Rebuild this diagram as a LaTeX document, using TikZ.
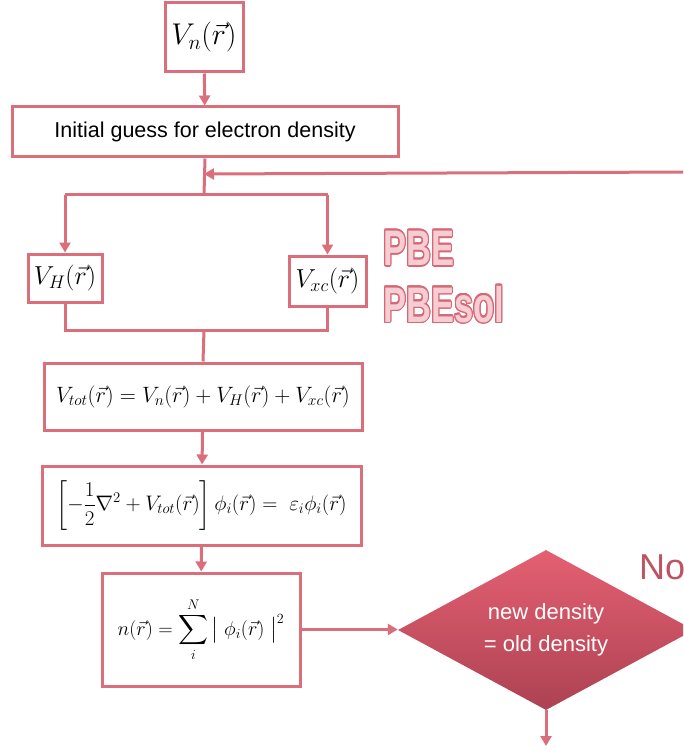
\RequirePackage{fix-cm}
\documentclass[tikz,border=0pt]{standalone}
\usepackage{amsmath}
\usepackage{fontspec}
\setmainfont{Liberation Sans}
\usepackage[copies]{contour}
\usetikzlibrary{shapes.geometric,arrows.meta}
\definecolor{edge}{RGB}{218,110,122}
\definecolor{pbeline}{RGB}{214,104,118}
\definecolor{pbefill}{RGB}{245,205,211}
\definecolor{dtop}{RGB}{228,96,114}
\definecolor{dbot}{RGB}{172,66,82}
\definecolor{notext}{RGB}{190,84,98}
\contourlength{1.6pt}
\tikzset{
  box/.style={draw=edge, line width=3pt, fill=white, inner sep=0pt, align=center},
  link/.style={draw=edge, line width=3pt},
  flow/.style={link, -{Triangle[length=10pt,width=11pt]}},
  hollow/.style={anchor=west, inner sep=0pt, font=\fontsize{50}{54}\selectfont\bfseries}
}
\begin{document}
\begin{tikzpicture}[x=1pt, y=-1pt]
\useasboundingbox (0,0) rectangle (683,751);
\clip (0,0) rectangle (683,751);

% process boxes
\node[box, minimum width=78pt, minimum height=69pt, font=\fontsize{30}{34}\selectfont] (vn) at (204,37.5)
  {$V_n(\vec{r})$};
\node[box, minimum width=386pt, minimum height=50pt, font=\fontsize{21.5}{25}\selectfont] (init) at (205,132)
  {Initial guess for electron density};
\node[box, minimum width=74pt, minimum height=48pt, font=\fontsize{26}{30}\selectfont] (vh) at (65,278)
  {$V_H(\vec{r})$};
\node[box, minimum width=77pt, minimum height=50pt, font=\fontsize{26}{30}\selectfont] (vxc) at (327.5,281)
  {$V_{xc}(\vec{r})$};
\node[box, minimum width=318pt, minimum height=67pt, font=\fontsize{22.2}{26}\selectfont] (vtot) at (203,396.5)
  {$V_{tot}(\vec{r}) = V_n(\vec{r}) + V_H(\vec{r}) + V_{xc}(\vec{r})$};
\node[box, minimum width=319pt, minimum height=79pt, font=\fontsize{21}{25}\selectfont] (ks) at (201.5,505.5)
  {$\displaystyle\left[-\frac{1}{2}\nabla^2 + V_{tot}(\vec{r})\right]\phi_i(\vec{r}) = \;\varepsilon_i\phi_i(\vec{r})$};
\node[box, minimum width=198pt, minimum height=113pt, font=\fontsize{20}{24}\selectfont] (dens) at (201,629.5)
  {$\displaystyle n(\vec{r}) = \sum_{i}^{N} \big|\;\phi_i(\vec{r})\;\big|^2$};

% convergence test
\node[diamond, aspect=1.85, minimum width=296pt, minimum height=160pt, inner sep=0pt,
      top color=dtop, bottom color=dbot, text=white, align=center,
      font=\fontsize{22}{32}\selectfont] (test) at (546,630)
  {new density\\= old density};
\node[anchor=west, inner sep=0pt, text=notext, font=\fontsize{36}{40}\selectfont] (no) at (639,567)
  {No};

% functional labels
\node[hollow] (pbe) at (383,249)
  {\scalebox{0.69}[1]{\contour{pbeline}{\textcolor{pbefill}{PBE}}}};
\node[hollow] (pbesol) at (383,305)
  {\scalebox{0.69}[1]{\contour{pbeline}{\textcolor{pbefill}{PBEsol}}}};

% connectors
\coordinate (split) at (204,195);
\coordinate (splitL) at (vh.north |- split);
\coordinate (splitR) at (vxc.north |- split);
\coordinate (join) at (204,330);
\coordinate (joinL) at (vh.south |- join);
\coordinate (joinR) at (vxc.south |- join);
\coordinate (back) at (690,172);
\coordinate (backin) at (204,174);
\coordinate (out) at (546,746);

\draw[flow] (vn) -- (init);
\draw[link] (init.south) -- (split);
\draw[flow] (back) -- (backin);
\draw[link] (splitL) -- (splitR);
\draw[flow] (splitL) -- (vh.north);
\draw[flow] (splitR) -- (vxc.north);
\draw[link] (vh.south) -- (joinL) -- (joinR) -- (vxc.south);
\draw[link] (join) -- (vtot.north);
\draw[flow] (vtot) -- (ks);
\draw[flow] (ks) -- (dens);
\draw[flow] (dens.east) -- (dens.east -| test.west);
\draw[flow] (test.south) -- (out);
\end{tikzpicture}
\end{document}
